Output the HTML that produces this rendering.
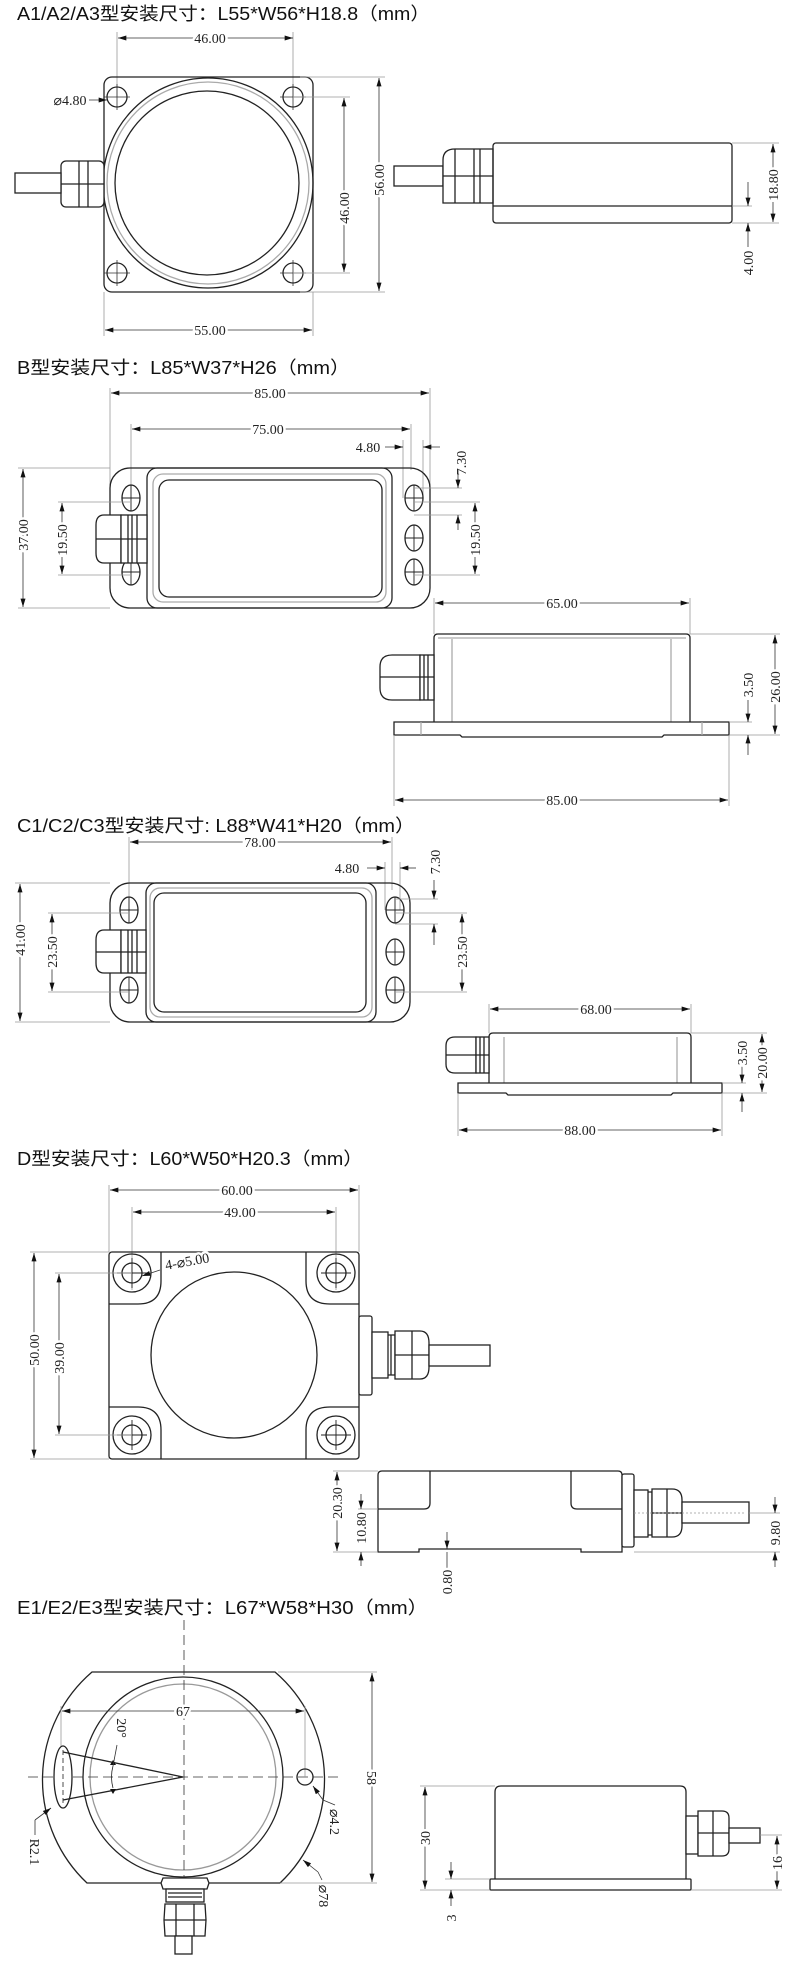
<!DOCTYPE html>
<html><head><meta charset="utf-8"><style>
html,body{margin:0;padding:0;background:#fff;}
svg{display:block;}
.b{fill:none;stroke:#222;stroke-width:1.3;}
.w{fill:#fff;stroke:#222;stroke-width:1.3;}
.l{fill:none;stroke:#999;stroke-width:0.8;}
.d{fill:none;stroke:#333;stroke-width:0.8;marker-start:url(#a);marker-end:url(#a);}
.e{fill:none;stroke:#333;stroke-width:0.8;marker-end:url(#a);}
.c{fill:none;stroke:#333;stroke-width:0.8;stroke-dasharray:10 5;}
.t{font-family:"Liberation Serif",serif;font-size:14px;fill:#222;text-anchor:middle;stroke:#fff;stroke-width:5;paint-order:stroke;}
.h{font-family:"Liberation Sans","Noto Sans CJK SC",sans-serif;font-size:18px;fill:#111;}
</style></head><body>
<svg width="790" height="1961" viewBox="0 0 790 1961" xmlns="http://www.w3.org/2000/svg">
<defs><marker id="a" viewBox="0 0 10 6" refX="10" refY="3" markerWidth="9" markerHeight="5" orient="auto-start-reverse" markerUnits="userSpaceOnUse"><path d="M0,0 L10,3 L0,6 z" fill="#111"/></marker></defs>

<!-- ===== A ===== -->
<text class="h" x="17" y="20" textLength="413" lengthAdjust="spacingAndGlyphs">A1/A2/A3型安装尺寸：L55*W56*H18.8（mm）</text>
<line class="l" x1="117" y1="32" x2="117" y2="97"/><line class="l" x1="293" y1="32" x2="293" y2="97"/>
<line class="d" x1="118" y1="38" x2="293" y2="38"/><text class="t" x="210" y="43">46.00</text>
<rect class="b" x="104" y="77" width="209" height="215" rx="8"/>
<circle class="b" cx="208" cy="183" r="105"/><circle class="b" cx="208" cy="183" r="101" style="stroke:#aaa"/>
<circle class="b" cx="207" cy="183" r="92"/>
<g class="b"><circle cx="117" cy="97" r="10"/><circle cx="293" cy="97" r="10"/><circle cx="117" cy="273" r="10"/><circle cx="293" cy="273" r="10"/></g>
<g class="l" style="stroke:#333"><path d="M117 84v26M104 97h26M293 84v26M280 97h26M117 260v26M104 273h26M293 260v26M280 273h26"/></g>
<line class="e" x1="89" y1="100" x2="107" y2="100"/><text class="t" x="70" y="105">⌀4.80</text>
<rect class="w" x="61" y="161" width="43" height="46" rx="5"/><path class="b" d="M79 161v46M88 161v46M61 184h43"/>
<rect class="w" x="15" y="173" width="46" height="20"/>
<line class="l" x1="293" y1="97" x2="350" y2="97"/><line class="l" x1="293" y1="273" x2="350" y2="273"/>
<line class="d" x1="344" y1="98" x2="344" y2="272"/><text class="t" transform="translate(349,208) rotate(-90)">46.00</text>
<line class="l" x1="300" y1="77" x2="385" y2="77"/><line class="l" x1="300" y1="292" x2="385" y2="292"/>
<line class="d" x1="379" y1="78" x2="379" y2="291"/><text class="t" transform="translate(384,180) rotate(-90)">56.00</text>
<line class="l" x1="104" y1="292" x2="104" y2="336"/><line class="l" x1="313" y1="292" x2="313" y2="336"/>
<line class="d" x1="105" y1="330" x2="312" y2="330"/><text class="t" x="210" y="335">55.00</text>
<rect class="w" x="394" y="166" width="49" height="20"/>
<path class="w" d="M443 203 L443 160 Q443 149 455 149 L493 149 L493 203 Z"/><path class="b" d="M455 149v54M474 149v54M480 149v54M443 176h50"/>
<rect class="b" x="493" y="143" width="239" height="80" rx="3"/><line class="b" x1="493" y1="206" x2="732" y2="206"/>
<line class="l" x1="732" y1="143" x2="779" y2="143"/><line class="l" x1="732" y1="223" x2="779" y2="223"/><line class="l" x1="732" y1="206" x2="752" y2="206"/>
<line class="d" x1="773" y1="144" x2="773" y2="222"/><text class="t" transform="translate(778,185) rotate(-90)">18.80</text>
<line class="e" x1="748" y1="182" x2="748" y2="206"/><line class="e" x1="748" y1="247" x2="748" y2="223"/><text class="t" transform="translate(753,263) rotate(-90)">4.00</text>

<!-- ===== B ===== -->
<text class="h" x="17" y="374" textLength="333" lengthAdjust="spacingAndGlyphs">B型安装尺寸：L85*W37*H26（mm）</text>
<line class="l" x1="110" y1="388" x2="110" y2="500"/><line class="l" x1="430" y1="388" x2="430" y2="500"/>
<line class="d" x1="111" y1="393" x2="429" y2="393"/><text class="t" x="270" y="398">85.00</text>
<line class="l" x1="131" y1="424" x2="131" y2="498"/><line class="l" x1="411" y1="424" x2="411" y2="470"/>
<line class="d" x1="132" y1="429" x2="410" y2="429"/><text class="t" x="268" y="434">75.00</text>
<line class="l" x1="403" y1="440" x2="403" y2="498"/><line class="l" x1="423" y1="440" x2="423" y2="498"/>
<line class="e" x1="385" y1="447" x2="403" y2="447"/><line class="e" x1="440" y1="447" x2="423" y2="447"/><text class="t" x="368" y="452">4.80</text>
<text class="t" transform="translate(466,463) rotate(-90)">7.30</text>
<rect class="b" x="110" y="468" width="320" height="140" rx="20"/>
<rect class="b" x="147" y="468" width="245" height="140" rx="10"/>
<rect class="b" x="153" y="474" width="233" height="128" rx="10" style="stroke:#aaa"/>
<rect class="b" x="159" y="480" width="223" height="117" rx="10"/>
<g class="b"><ellipse cx="131" cy="498" rx="9" ry="13"/><ellipse cx="131" cy="572" rx="9" ry="13"/><ellipse cx="414" cy="498" rx="9" ry="13"/><ellipse cx="414" cy="538" rx="9" ry="13"/><ellipse cx="414" cy="572" rx="9" ry="13"/></g>
<path class="b" style="stroke-width:0.9" d="M131 485v26M122 498h18M131 559v26M122 572h18M414 485v26M405 498h18M414 525v26M405 538h18M414 559v26M405 572h18"/>
<path class="w" d="M121 515 L104 515 Q96 515 96 525 L96 553 Q96 563 104 563 L121 563 Z"/><rect class="w" x="121" y="515" width="26" height="48"/><path class="b" d="M96 539h51M128 515v48M132 515v48M137 515v48"/>
<line class="l" x1="18" y1="468" x2="110" y2="468"/><line class="l" x1="18" y1="608" x2="110" y2="608"/>
<line class="d" x1="23" y1="469" x2="23" y2="607"/><text class="t" transform="translate(28,535) rotate(-90)">37.00</text>
<line class="l" x1="58" y1="502" x2="131" y2="502"/><line class="l" x1="58" y1="575" x2="131" y2="575"/>
<line class="d" x1="62" y1="503" x2="62" y2="574"/><text class="t" transform="translate(67,540) rotate(-90)">19.50</text>
<line class="l" x1="414" y1="488" x2="462" y2="488"/><line class="l" x1="414" y1="515" x2="462" y2="515"/>
<line class="e" x1="458" y1="470" x2="458" y2="488"/><line class="e" x1="458" y1="530" x2="458" y2="515"/>
<line class="l" x1="414" y1="502" x2="480" y2="502"/><line class="l" x1="414" y1="575" x2="480" y2="575"/>
<line class="d" x1="475" y1="503" x2="475" y2="574"/><text class="t" transform="translate(480,540) rotate(-90)">19.50</text>
<line class="l" x1="434" y1="598" x2="434" y2="634"/><line class="l" x1="690" y1="598" x2="690" y2="634"/>
<line class="d" x1="435" y1="603" x2="689" y2="603"/><text class="t" x="562" y="608">65.00</text>
<path class="b" d="M434 722 L434 638 Q434 634 438 634 L686 634 Q690 634 690 638 L690 722"/>
<path class="b" style="stroke:#aaa" d="M452 639v83M671 639v83M438 638h248"/>
<path class="w" d="M394 722 L729 722 L729 735 L664 735 L662 737 L462 737 L460 735 L394 735 Z"/>
<path class="b" style="stroke:#aaa" d="M421 722v13M702 722v13"/>
<path class="w" d="M420 655 L392 655 Q380 655 380 667 L380 688 Q380 700 392 700 L420 700 Z"/><rect class="w" x="420" y="655" width="14" height="45"/><path class="b" d="M380 677h54M424 655v45M428 655v45"/>
<line class="l" x1="690" y1="634" x2="780" y2="634"/><line class="l" x1="729" y1="735" x2="780" y2="735"/><line class="l" x1="729" y1="722" x2="752" y2="722"/>
<line class="d" x1="775" y1="635" x2="775" y2="734"/><text class="t" transform="translate(780,687) rotate(-90)">26.00</text>
<line class="e" x1="748" y1="700" x2="748" y2="722"/><line class="e" x1="748" y1="755" x2="748" y2="735"/><text class="t" transform="translate(753,685) rotate(-90)">3.50</text>
<line class="l" x1="394" y1="735" x2="394" y2="806"/><line class="l" x1="729" y1="735" x2="729" y2="806"/>
<line class="d" x1="395" y1="800" x2="728" y2="800"/><text class="t" x="562" y="805">85.00</text>

<!-- ===== C ===== -->
<text class="h" x="17" y="832" textLength="398" lengthAdjust="spacingAndGlyphs">C1/C2/C3型安装尺寸: L88*W41*H20（mm）</text>
<line class="l" x1="129" y1="837" x2="129" y2="910"/><line class="l" x1="392" y1="837" x2="392" y2="890"/>
<line class="d" x1="130" y1="842" x2="391" y2="842"/><text class="t" x="260" y="847">78.00</text>
<line class="l" x1="385" y1="862" x2="385" y2="910"/><line class="l" x1="400" y1="862" x2="400" y2="910"/>
<line class="e" x1="367" y1="868" x2="385" y2="868"/><line class="e" x1="416" y1="868" x2="400" y2="868"/><text class="t" x="347" y="873">4.80</text>
<text class="t" transform="translate(440,862) rotate(-90)">7.30</text>
<rect class="b" x="110" y="883" width="300" height="139" rx="20"/>
<rect class="b" x="146" y="883" width="230" height="139" rx="10"/>
<rect class="b" x="150" y="888" width="222" height="129" rx="10" style="stroke:#aaa"/>
<rect class="b" x="154" y="893" width="212" height="119" rx="10"/>
<g class="b"><ellipse cx="129" cy="910" rx="9" ry="13"/><ellipse cx="129" cy="990" rx="9" ry="13"/><ellipse cx="395" cy="910" rx="9" ry="13"/><ellipse cx="395" cy="952" rx="9" ry="13"/><ellipse cx="395" cy="990" rx="9" ry="13"/></g>
<path class="b" style="stroke-width:0.9" d="M129 897v26M120 910h18M129 977v26M120 990h18M395 897v26M386 910h18M395 939v26M386 952h18M395 977v26M386 990h18"/>
<path class="w" d="M121 930 L104 930 Q96 930 96 940 L96 963 Q96 973 104 973 L121 973 Z"/><rect class="w" x="121" y="930" width="25" height="43"/><path class="b" d="M96 952h50M128 930v43M132 930v43M137 930v43"/>
<line class="l" x1="15" y1="883" x2="110" y2="883"/><line class="l" x1="15" y1="1022" x2="110" y2="1022"/>
<line class="d" x1="20" y1="884" x2="20" y2="1021"/><text class="t" transform="translate(25,940) rotate(-90)">41.00</text>
<line class="l" x1="48" y1="913" x2="129" y2="913"/><line class="l" x1="48" y1="992" x2="129" y2="992"/>
<line class="d" x1="52" y1="914" x2="52" y2="991"/><text class="t" transform="translate(57,952) rotate(-90)">23.50</text>
<line class="l" x1="395" y1="899" x2="438" y2="899"/><line class="l" x1="395" y1="924" x2="438" y2="924"/>
<line class="e" x1="434" y1="880" x2="434" y2="899"/><line class="e" x1="434" y1="945" x2="434" y2="924"/>
<line class="l" x1="395" y1="913" x2="467" y2="913"/><line class="l" x1="395" y1="992" x2="467" y2="992"/>
<line class="d" x1="462" y1="914" x2="462" y2="991"/><text class="t" transform="translate(467,952) rotate(-90)">23.50</text>
<line class="l" x1="489" y1="1004" x2="489" y2="1033"/><line class="l" x1="691" y1="1004" x2="691" y2="1033"/>
<line class="d" x1="490" y1="1009" x2="690" y2="1009"/><text class="t" x="596" y="1014">68.00</text>
<path class="b" d="M489 1083 L489 1037 Q489 1033 493 1033 L687 1033 Q691 1033 691 1037 L691 1083"/>
<path class="b" style="stroke:#aaa" d="M504 1037v46M677 1037v46"/>
<path class="w" d="M458 1083 L722 1083 L722 1093 L673 1093 L671 1095 L508 1095 L506 1093 L458 1093 Z"/>
<path class="w" d="M476 1037 L455 1037 Q446 1037 446 1046 L446 1064 Q446 1073 455 1073 L476 1073 Z"/><rect class="w" x="476" y="1037" width="13" height="36"/><path class="b" d="M446 1055h43M480 1037v36M484 1037v36"/>
<line class="l" x1="691" y1="1033" x2="767" y2="1033"/><line class="l" x1="722" y1="1093" x2="767" y2="1093"/><line class="l" x1="722" y1="1083" x2="746" y2="1083"/>
<line class="d" x1="762" y1="1034" x2="762" y2="1092"/><text class="t" transform="translate(767,1063) rotate(-90)">20.00</text>
<line class="e" x1="742" y1="1063" x2="742" y2="1083"/><line class="e" x1="742" y1="1112" x2="742" y2="1093"/><text class="t" transform="translate(747,1053) rotate(-90)">3.50</text>
<line class="l" x1="458" y1="1093" x2="458" y2="1136"/><line class="l" x1="722" y1="1093" x2="722" y2="1136"/>
<line class="d" x1="459" y1="1130" x2="721" y2="1130"/><text class="t" x="580" y="1135">88.00</text>

<!-- ===== D ===== -->
<text class="h" x="17" y="1165" textLength="346" lengthAdjust="spacingAndGlyphs">D型安装尺寸：L60*W50*H20.3（mm）</text>
<line class="l" x1="109" y1="1185" x2="109" y2="1252"/><line class="l" x1="359" y1="1185" x2="359" y2="1252"/>
<line class="d" x1="110" y1="1190" x2="358" y2="1190"/><text class="t" x="237" y="1195">60.00</text>
<line class="l" x1="132" y1="1207" x2="132" y2="1290"/><line class="l" x1="336" y1="1207" x2="336" y2="1290"/>
<line class="d" x1="133" y1="1212" x2="335" y2="1212"/><text class="t" x="240" y="1217">49.00</text>
<rect class="b" x="109" y="1252" width="250" height="207" rx="3"/>
<path class="b" d="M109 1304 L138 1304 Q161 1304 161 1281 L161 1252 M359 1304 L330 1304 Q306 1304 306 1281 L306 1252 M109 1407 L138 1407 Q161 1407 161 1430 L161 1459 M359 1407 L330 1407 Q306 1407 306 1430 L306 1459"/>
<circle class="b" cx="234" cy="1355" r="83"/>
<g class="b"><circle cx="132" cy="1273" r="19"/><circle cx="132" cy="1273" r="10"/><circle cx="336" cy="1273" r="19"/><circle cx="336" cy="1273" r="10"/><circle cx="132" cy="1435" r="19"/><circle cx="132" cy="1435" r="10"/><circle cx="336" cy="1435" r="19"/><circle cx="336" cy="1435" r="10"/></g>
<path class="b" style="stroke-width:0.9" d="M132 1258v30M117 1273h30M336 1258v30M321 1273h30M132 1420v30M117 1435h30M336 1420v30M321 1435h30"/>
<line class="e" x1="160" y1="1270" x2="142" y2="1276"/><text class="t" transform="translate(188,1266) rotate(-10)">4-⌀5.00</text>
<line class="l" x1="30" y1="1252" x2="109" y2="1252"/><line class="l" x1="30" y1="1459" x2="109" y2="1459"/>
<line class="d" x1="34" y1="1253" x2="34" y2="1458"/><text class="t" transform="translate(39,1350) rotate(-90)">50.00</text>
<line class="l" x1="55" y1="1273" x2="132" y2="1273"/><line class="l" x1="55" y1="1435" x2="132" y2="1435"/>
<line class="d" x1="59" y1="1274" x2="59" y2="1434"/><text class="t" transform="translate(64,1358) rotate(-90)">39.00</text>
<rect class="w" x="359" y="1316" width="13" height="79" rx="2"/>
<rect class="w" x="372" y="1332" width="16" height="46"/><path class="b" d="M388 1335h7v40h-7M391 1335v40"/>
<path class="w" d="M395 1331 L420 1331 Q429 1331 429 1343 L429 1367 Q429 1379 420 1379 L395 1379 Z"/><path class="b" d="M395 1355h34M412 1331v48"/>
<rect class="w" x="429" y="1345" width="61" height="21"/>
<path class="b" d="M378 1509 L378 1475 Q378 1471 382 1471 L618 1471 Q622 1471 622 1475 L622 1552 L581 1552 L581 1549 L419 1549 L419 1552 L378 1552 Z"/>
<path class="b" d="M378 1509 L424 1509 Q430 1509 430 1503 L430 1471 M622 1509 L577 1509 Q571 1509 571 1503 L571 1471"/>
<rect class="w" x="622" y="1474" width="12" height="73" rx="2"/>
<rect class="w" x="634" y="1490" width="14" height="47"/><path class="b" d="M648 1492h4v43h-4"/>
<path class="w" d="M652 1489 L672 1489 Q682 1489 682 1500 L682 1526 Q682 1537 672 1537 L652 1537 Z"/><path class="b" d="M652 1513h30M667 1489v48"/>
<rect class="w" x="682" y="1502" width="67" height="21"/>
<line class="l" x1="634" y1="1513" x2="745" y2="1513" style="stroke-dasharray:2 2"/>
<line class="l" x1="333" y1="1471" x2="378" y2="1471"/><line class="l" x1="333" y1="1552" x2="378" y2="1552"/><line class="l" x1="358" y1="1509" x2="378" y2="1509"/>
<line class="d" x1="337" y1="1472" x2="337" y2="1551"/><text class="t" transform="translate(342,1503) rotate(-90)">20.30</text>
<line class="e" x1="361" y1="1494" x2="361" y2="1509"/><line class="e" x1="361" y1="1566" x2="361" y2="1552"/><text class="t" transform="translate(366,1528) rotate(-90)">10.80</text>
<line class="e" x1="447" y1="1532" x2="447" y2="1549"/><line class="l" x1="447" y1="1552" x2="447" y2="1568" style="stroke:#333"/><text class="t" transform="translate(452,1582) rotate(-90)">0.80</text>
<line class="l" x1="749" y1="1513" x2="780" y2="1513"/><line class="l" x1="634" y1="1552" x2="780" y2="1552"/>
<line class="e" x1="775" y1="1497" x2="775" y2="1513"/><line class="e" x1="775" y1="1567" x2="775" y2="1552"/><text class="t" transform="translate(780,1533) rotate(-90)">9.80</text>

<!-- ===== E ===== -->
<text class="h" x="17" y="1614" textLength="411" lengthAdjust="spacingAndGlyphs">E1/E2/E3型安装尺寸：L67*W58*H30（mm）</text>
<path class="b" d="M92 1672 L275 1672 A142 142 0 0 1 280 1883 L87 1883 A142 142 0 0 1 92 1672 Z"/>
<circle class="b" cx="183" cy="1777" r="100"/><circle class="b" cx="183" cy="1777" r="93" style="stroke:#999"/>
<line class="c" x1="184" y1="1620" x2="184" y2="1950"/>
<line class="c" x1="28" y1="1777" x2="340" y2="1777"/>
<line class="l" x1="61" y1="1706" x2="61" y2="1757"/><line class="l" x1="305" y1="1706" x2="305" y2="1777"/>
<line class="d" x1="62" y1="1711" x2="304" y2="1711"/><text class="t" x="183" y="1716">67</text>
<ellipse class="w" cx="63" cy="1777" rx="9" ry="31"/><path class="b" d="M63 1750v54" style="stroke-dasharray:5 3;stroke-width:0.8"/>
<path class="b" d="M63 1752 L183 1777 L63 1800"/>
<path class="b" style="stroke-width:0.8" d="M113 1766 Q110 1777 113 1788"/>
<path d="M110 1765l3 -5l3 5z M110 1789l3 5l3 -5z" fill="#111"/>
<text class="t" transform="translate(117,1728) rotate(90)">20°</text>
<line class="l" x1="117" y1="1745" x2="113" y2="1766" style="stroke:#333"/>
<circle class="b" cx="305" cy="1777" r="8"/>
<line class="e" x1="323" y1="1800" x2="313" y2="1786"/><path class="l" style="stroke:#333" d="M323 1800 L335 1805"/>
<text class="t" transform="translate(330,1822) rotate(90)">⌀4.2</text>
<line class="e" x1="35" y1="1820" x2="51" y2="1808"/><path class="l" style="stroke:#333" d="M35 1820 L35 1835"/>
<text class="t" transform="translate(30,1852) rotate(90)">R2.1</text>
<line class="e" x1="318" y1="1872" x2="303" y2="1860"/><path class="l" style="stroke:#333" d="M318 1872 L322 1880"/>
<text class="t" transform="translate(319,1896) rotate(90)">⌀78</text>
<line class="l" x1="278" y1="1672" x2="377" y2="1672"/><line class="l" x1="280" y1="1883" x2="377" y2="1883"/>
<line class="d" x1="372" y1="1673" x2="372" y2="1882"/><text class="t" transform="translate(367,1778) rotate(90)">58</text>
<path class="w" d="M163 1878 L207 1878 L209 1883 L207 1889 L163 1889 L161 1883 Z"/>
<rect class="w" x="166" y="1889" width="38" height="13"/><path class="b" d="M168 1893h34M168 1897h34"/>
<path class="w" d="M165 1904 L205 1904 L206 1920 L205 1936 L165 1936 L164 1920 Z"/><path class="b" d="M164 1920h42M176 1904v32M194 1904v32"/>
<rect class="w" x="175" y="1936" width="17" height="18"/>
<path class="b" d="M495 1879 L495 1792 Q495 1786 501 1786 L680 1786 Q686 1786 686 1792 L686 1879"/>
<rect class="w" x="490" y="1879" width="201" height="11" rx="1"/>
<rect class="w" x="686" y="1816" width="12" height="38"/>
<path class="w" d="M698 1811 L722 1811 Q729 1811 729 1818 L729 1849 Q729 1856 722 1856 L698 1856 Z"/><path class="b" d="M698 1833h31M713 1811v45"/>
<rect class="w" x="729" y="1828" width="31" height="15"/>
<line class="l" x1="420" y1="1786" x2="495" y2="1786"/><line class="l" x1="420" y1="1890" x2="490" y2="1890"/><line class="l" x1="445" y1="1879" x2="490" y2="1879"/>
<line class="d" x1="425" y1="1787" x2="425" y2="1889"/><text class="t" transform="translate(430,1838) rotate(-90)">30</text>
<line class="e" x1="451" y1="1862" x2="451" y2="1879"/><line class="e" x1="451" y1="1906" x2="451" y2="1890"/><text class="t" transform="translate(456,1918) rotate(-90)">3</text>
<line class="l" x1="760" y1="1835" x2="782" y2="1835"/><line class="l" x1="691" y1="1890" x2="782" y2="1890"/>
<line class="d" x1="777" y1="1836" x2="777" y2="1889"/><text class="t" transform="translate(782,1863) rotate(-90)">16</text>
</svg>
</body></html>
